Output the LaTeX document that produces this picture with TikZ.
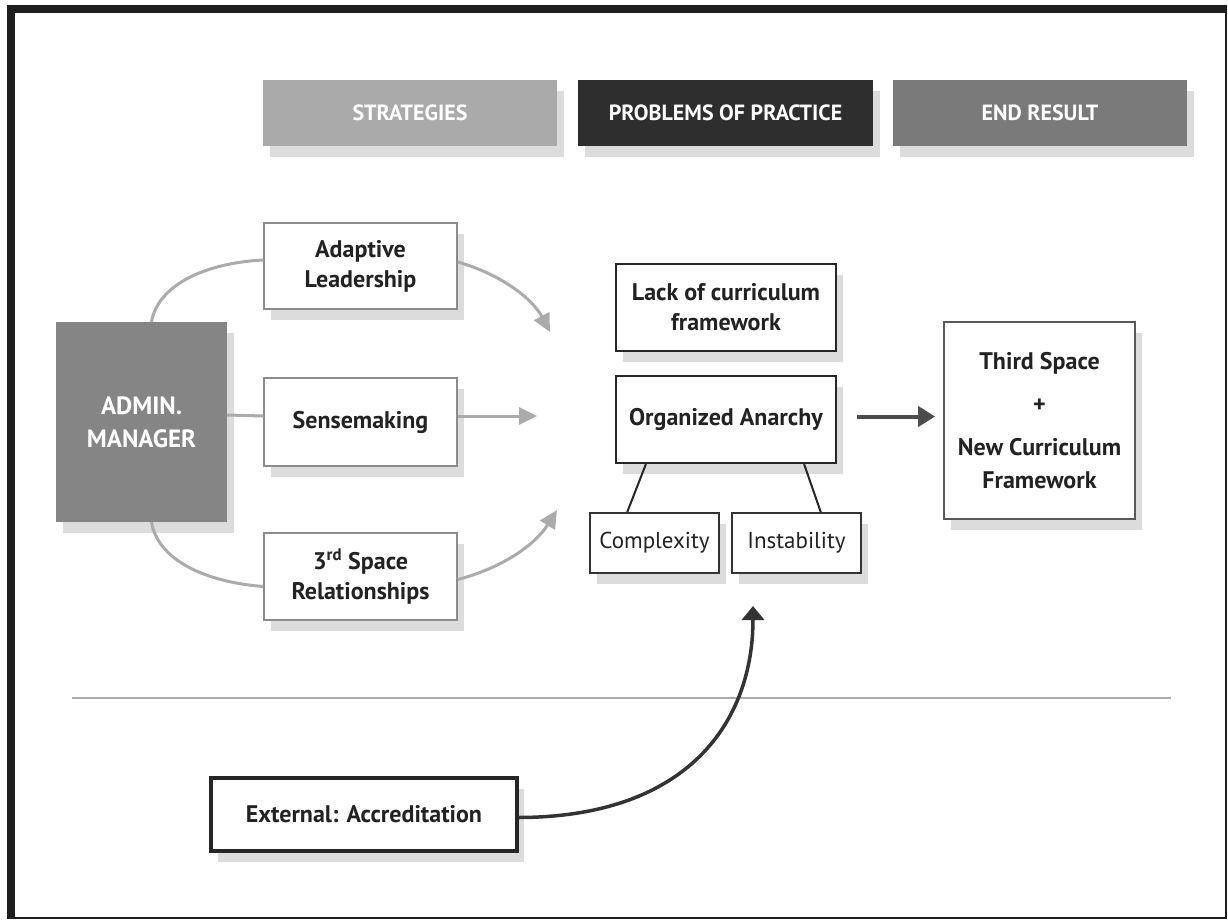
\documentclass[tikz,border=0pt]{standalone}
\usepackage{fontspec}
\setmainfont{PT Sans}
\usetikzlibrary{arrows.meta,shadows}
\definecolor{shadowgray}{HTML}{DCDCDC}
\definecolor{hdrA}{HTML}{AAAAAA}
\definecolor{hdrB}{HTML}{2E2E2E}
\definecolor{hdrC}{HTML}{7A7A7A}
\definecolor{adminfill}{HTML}{858585}
\definecolor{curvegray}{HTML}{ABABAB}
\definecolor{textdark}{HTML}{222222}
\definecolor{framedark}{HTML}{1E1E1E}
\begin{document}
\begin{tikzpicture}[x=1pt,y=-1pt,
  shadowed/.style={drop shadow={shadow xshift=7pt,shadow yshift=-11pt,fill=shadowgray,opacity=1}},
  header/.style={shadowed,minimum width=294pt,minimum height=66pt,inner sep=0pt,text=white,
    font=\fontsize{22}{26}\selectfont\bfseries},
  stratbox/.style={shadowed,draw=black!45,line width=1.6pt,fill=white,minimum width=193pt,
    minimum height=87pt,inner sep=0pt,align=center,text=textdark,font=\fontsize{24}{30}\selectfont\bfseries},
  probbox/.style={shadowed,draw=black!85,line width=2.2pt,fill=white,inner sep=0pt,align=center,
    text=textdark,font=\fontsize{24}{30}\selectfont\bfseries},
  subbox/.style={shadowed,draw=black!80,line width=1.6pt,fill=white,minimum width=129pt,
    minimum height=60pt,inner sep=0pt,text=textdark,font=\fontsize{23}{26}\selectfont},
  graycurve/.style={draw=curvegray,line width=3pt},
  grayarrow/.style={graycurve,-{Triangle[length=18pt,width=17pt]}},
  darkarrow/.style={draw=black!70,line width=4pt,-{Triangle[length=17pt,width=20pt]}},
  extarrow/.style={draw=black!80,line width=3.5pt,-{Triangle[length=14pt,width=22pt]}}]
\useasboundingbox (0,0) rectangle (1228,920);
% frame
\fill[framedark] (7,5) rectangle (1227,919);
\fill[white] (15,13) rectangle (1225,917);

% headers
\node[header,fill=hdrA] (strat) at (410,113) {STRATEGIES};
\node[header,fill=hdrB,minimum width=295pt] (prob) at (725.5,113) {PROBLEMS OF PRACTICE};
\node[header,fill=hdrC] (endr) at (1040,113) {END RESULT};

% admin
\node[shadowed,fill=adminfill,minimum width=171pt,minimum height=200pt,inner sep=0pt,
  align=center,text=white,font=\fontsize{25}{33}\selectfont\bfseries] (admin) at (141.5,422) {ADMIN.\\MANAGER};

% strategies
\node[stratbox,minimum height=86pt] (adapt) at (360.5,266) {Adaptive\\Leadership};
\node[stratbox,minimum height=88pt] (sense) at (360.5,422) {Sensemaking};
\node[stratbox] (space) at (360.5,576.5) {3\textsuperscript{rd} Space\\Relationships};

% problems
\node[probbox,minimum width=220pt,minimum height=87pt] (lack) at (726,307.5) {Lack of curriculum\\framework};
\node[probbox,minimum width=220pt,minimum height=87pt] (oa) at (726,419.5) {Organized Anarchy};
\node[subbox] (cx) at (654.5,543) {Complexity};
\node[subbox] (inst) at (796.5,543) {Instability};

% end result
\node[shadowed,draw=black!65,line width=1.8pt,fill=white,minimum width=191pt,minimum height=197pt,
  inner sep=0pt,align=center,text=textdark,font=\fontsize{24}{33}\selectfont\bfseries] (ts) at (1039.5,420.5)
  {Third Space\\[10pt]+\\[10pt]New Curriculum\\Framework};

% external
\node[shadowed,draw=black!85,line width=3.5pt,fill=white,minimum width=306pt,minimum height=73pt,
  inner sep=0pt,text=textdark,font=\fontsize{24}{28}\selectfont\bfseries] (ext) at (364,814.5) {External: Accreditation};

% free ends
\coordinate (tipA) at (550,332);
\coordinate (tipS) at (537,416);
\coordinate (tipR) at (557,510);
\coordinate (tipE) at (753,606);
\coordinate (lineL) at (72,698);
\coordinate (lineR) at (1171,698);

% separator
\draw[curvegray,line width=2.5pt] (lineL) -- (lineR);

% strategy connectors
\draw[graycurve] ([xshift=10pt]admin.north) .. controls (158,285) and (205,263) .. ([yshift=6pt]adapt.west);
\draw[grayarrow] ([yshift=4pt]adapt.east) .. controls (500,274) and (532,298) .. (tipA);
\draw[graycurve] ([yshift=7pt]admin.east) -- ([yshift=6pt]sense.west);
\draw[grayarrow] ([yshift=6pt]sense.east) -- (tipS);
\draw[graycurve] ([xshift=10pt]admin.south) .. controls (158,560) and (205,582) .. ([yshift=-10pt]space.west);
\draw[grayarrow] ([yshift=-3pt]space.east) .. controls (502,568) and (535,545) .. (tipR);

% problem connectors
\draw[black!85,line width=2pt] ([xshift=31pt]oa.south west) -- ([xshift=38pt]cx.north west);
\draw[black!85,line width=2pt] ([xshift=-33pt]oa.south east) -- ([xshift=-41pt]inst.north east);
\draw[darkarrow] ([xshift=20pt,yshift=3pt]oa.east) -- ([xshift=-8pt,yshift=4pt]ts.west);

% external connector
\draw[extarrow] ([yshift=-3pt]ext.east) .. controls (690,817) and (753,720) .. (tipE);
\end{tikzpicture}
\end{document}
